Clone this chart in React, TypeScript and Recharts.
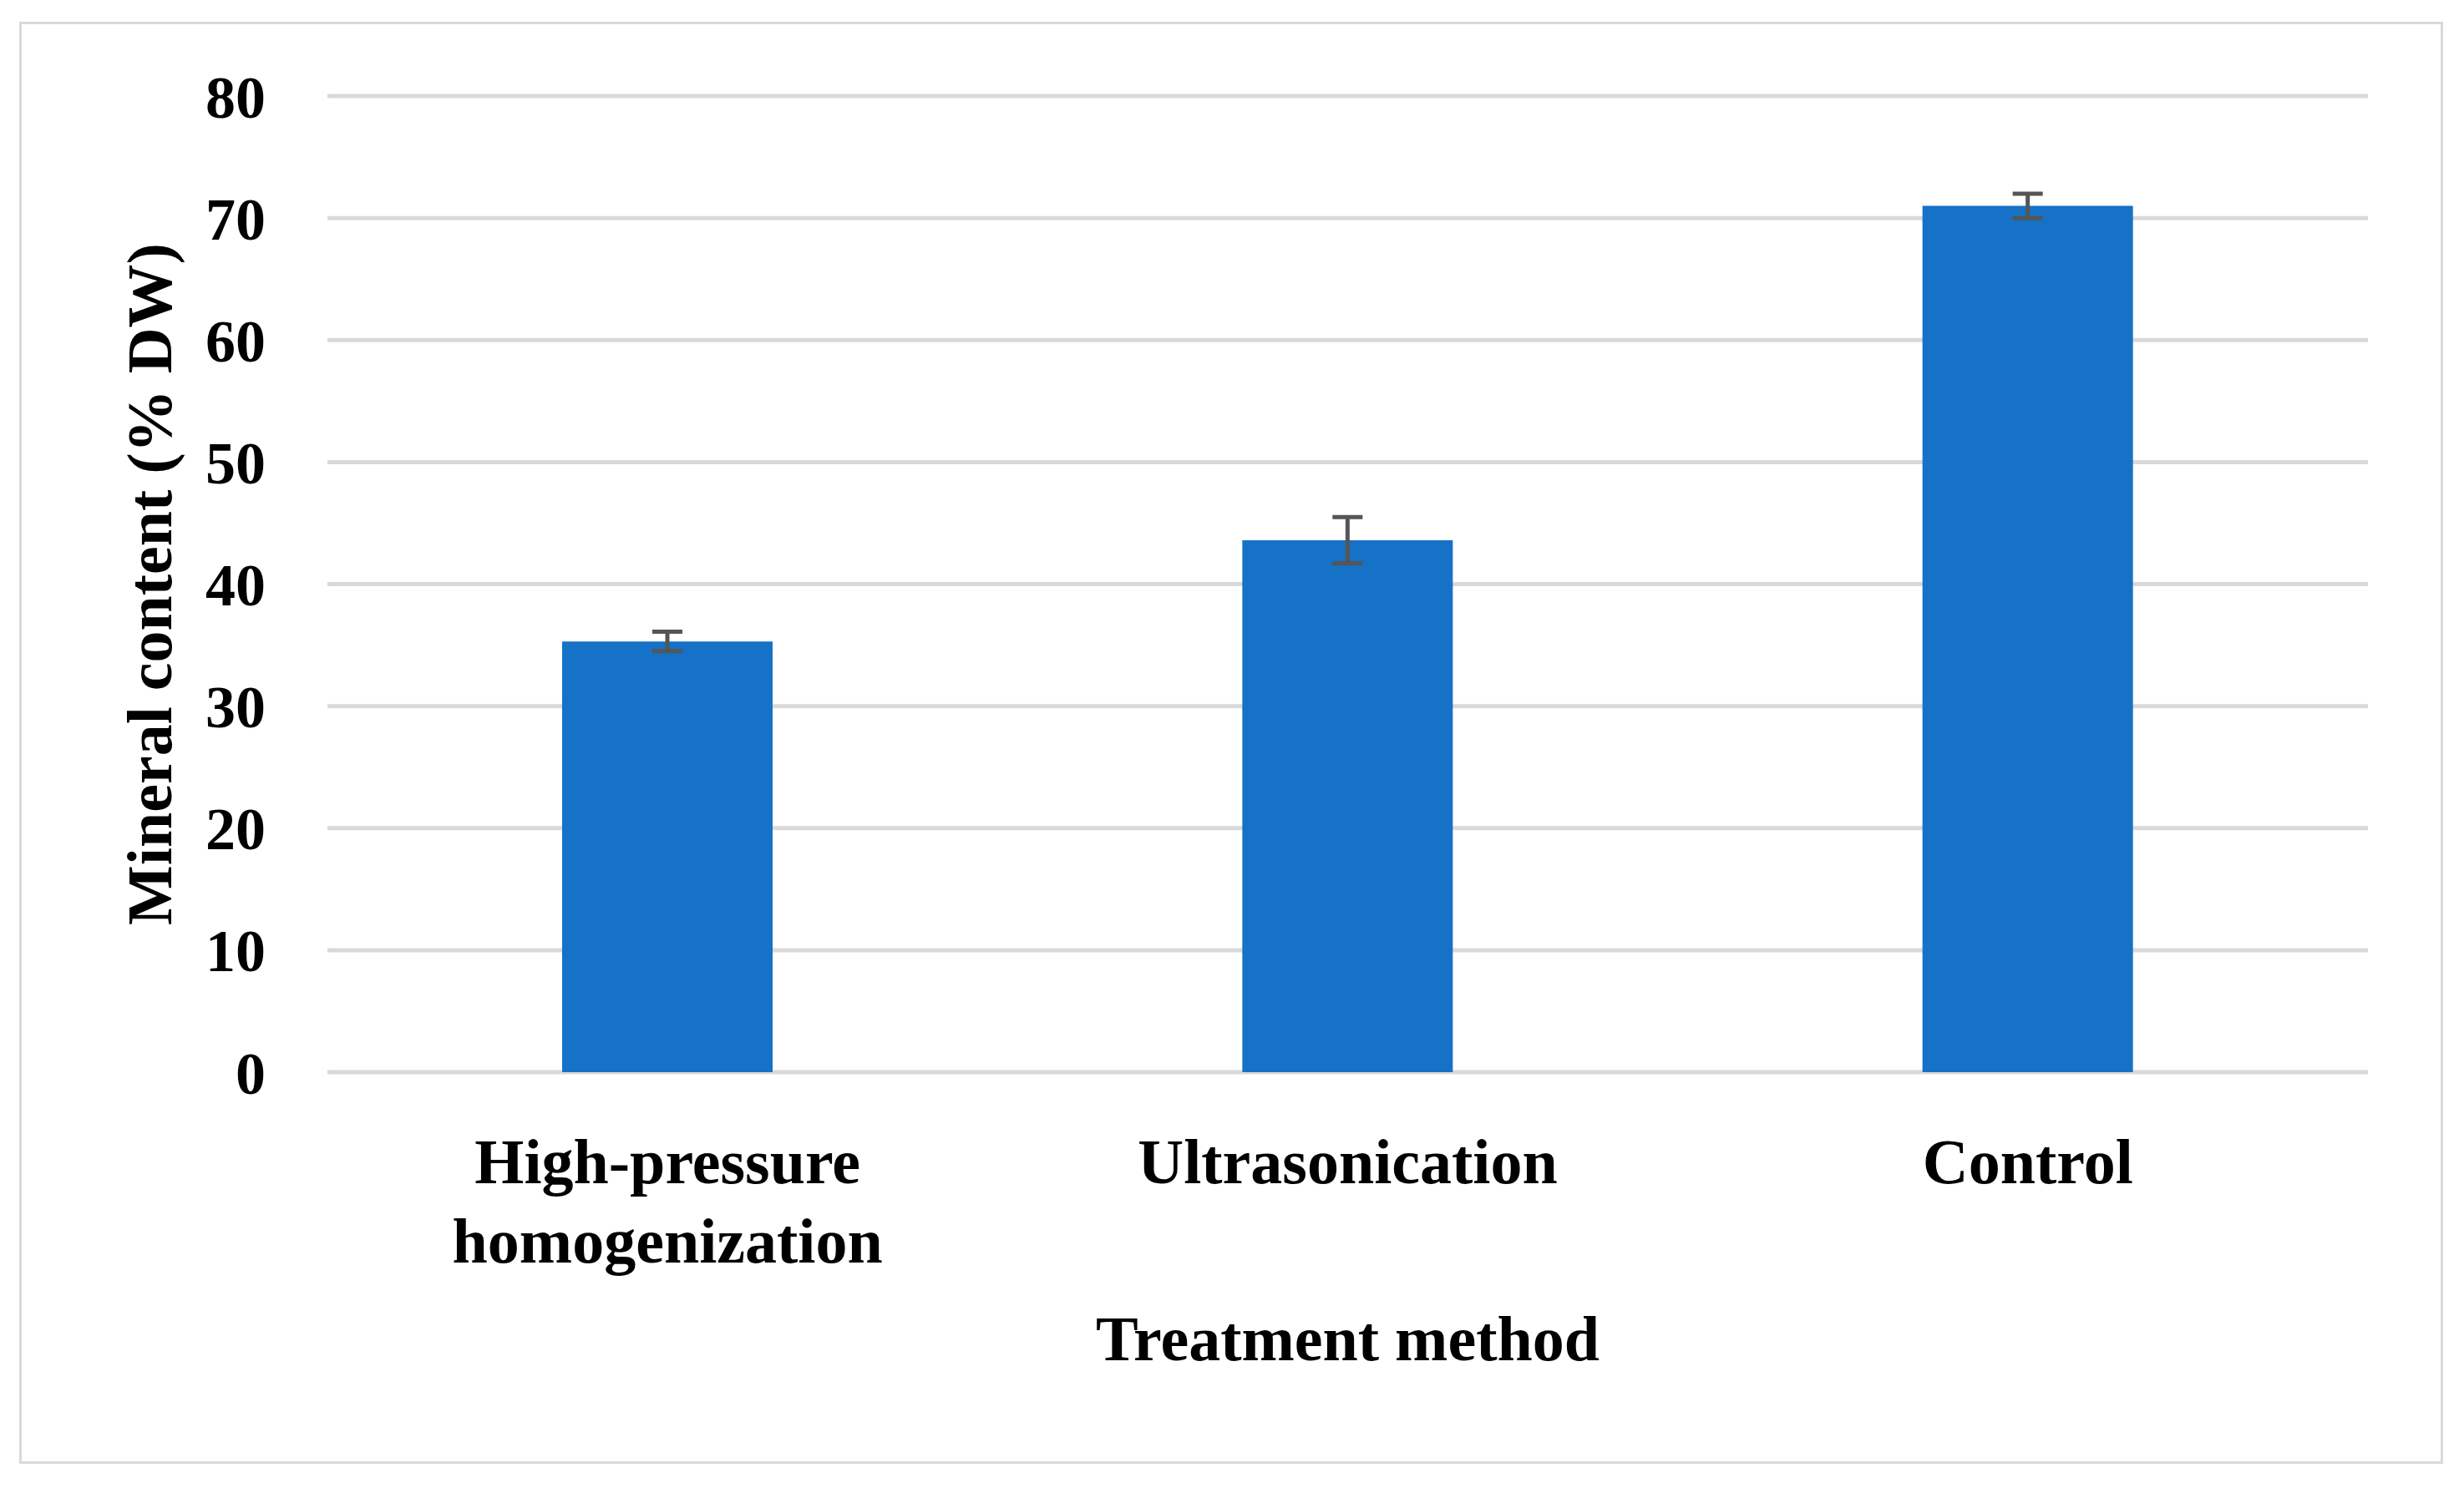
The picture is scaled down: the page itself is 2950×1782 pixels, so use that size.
import React from 'react';
import { BarChart, Bar, XAxis, YAxis, CartesianGrid, ErrorBar } from 'recharts';

// values
const methods = ['High-pressure\nhomogenization', 'Ultrasonication', 'Control'];
const mineral = [35.3, 43.6, 71.0];
const errors = [0.8, 1.9, 1.0];
const yTicks = [0, 10, 20, 30, 40, 50, 60, 70, 80];

const data = methods.map((m, i) => ({ method: m, value: mineral[i], err: errors[i] }));

const FONT = '"Liberation Serif", "Times New Roman", serif';

const CategoryTick = (props: any) => {
  const { x, y, payload } = props;
  const lines = String(payload.value).split('\n');
  return (
    <text x={x} y={y} textAnchor="middle" fontFamily={FONT} fontWeight="bold" fontSize={76} fill="#000">
      {lines.map((l, i) => (
        <tspan key={i} x={x} dy={i === 0 ? 133 : 95}>{l}</tspan>
      ))}
    </text>
  );
};

const XTitle = (props: any) => {
  const { viewBox } = props;
  return (
    <text x={viewBox.x + viewBox.width / 2} y={viewBox.y + 345} textAnchor="middle"
      fontFamily={FONT} fontWeight="bold" fontSize={76} fill="#000">
      Treatment method
    </text>
  );
};

const YTitle = (props: any) => {
  const { viewBox } = props;
  const cx = 205;
  const cy = viewBox.y + viewBox.height / 2;
  return (
    <text x={cx} y={cy} transform={`rotate(-90 ${cx} ${cy})`} textAnchor="middle"
      fontFamily={FONT} fontWeight="bold" fontSize={76} fill="#000">
      Mineral content (% DW)
    </text>
  );
};

const App = () => {
  return (
    <div style={{ position: 'absolute', left: 0, top: 0, width: 2950, height: 1782, background: '#fff' }}>
      <div style={{
        position: 'absolute', left: 23, top: 26, width: 2902, height: 1727,
        border: '3px solid #d9d9d9', boxSizing: 'border-box'
      }} />
      <div style={{ position: 'absolute', left: 0, top: 0 }}>
        <BarChart width={2950} height={1782} data={data}
          margin={{ top: 115, right: 115, bottom: 0, left: 0 }}>
          <CartesianGrid vertical={false} stroke="#d9d9d9" strokeWidth={5} />
          <XAxis dataKey="method" height={498} axisLine={false} tickLine={false}
            tickSize={0} tickMargin={0} tick={<CategoryTick />} interval={0}
            label={<XTitle />} />
          <YAxis width={392} domain={[0, 80]} ticks={yTicks} axisLine={false} tickLine={false}
            tickSize={0} tickMargin={74} interval={0}
            tick={{ fontFamily: FONT, fontWeight: 'bold', fontSize: 72, fill: '#000' }}
            label={<YTitle />} />
          <Bar dataKey="value" fill="#1572C6" barSize={252} isAnimationActive={false}>
            <ErrorBar dataKey="err" width={18} stroke="#555" strokeWidth={5} isAnimationActive={false} />
          </Bar>
        </BarChart>
      </div>
    </div>
  );
};

export default App;
